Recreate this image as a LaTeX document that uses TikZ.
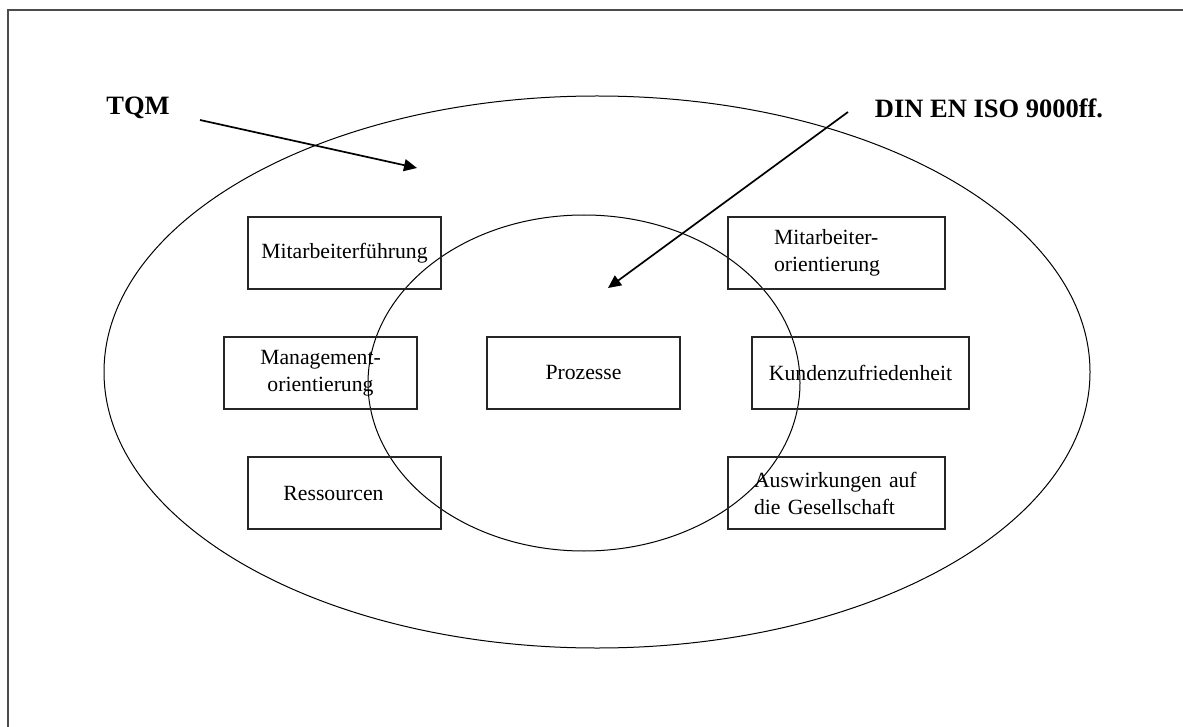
\documentclass[tikz,border=0pt]{standalone}
\usepackage{fontspec}
\setmainfont{Liberation Serif}
\usetikzlibrary{arrows.meta}
\tikzset{
  boxnode/.style={draw=black!85, line width=1.2pt, inner sep=0pt,
    font=\fontsize{21.7}{27}\selectfont},
  labelnode/.style={inner sep=0pt, font=\fontsize{26.5}{30}\selectfont\bfseries},
  ring/.style={draw=black, line width=1pt},
  pointer/.style={draw=black, line width=1.7pt, -{Triangle[length=13pt,width=12pt]}},
  frame/.style={draw=black!70, line width=1.6pt}
}
\begin{document}
\begin{tikzpicture}[x=1pt,y=-1pt]
\useasboundingbox (0,0) rectangle (1183,727);
\fill[white] (0,0) rectangle (1183,727);
% frame (only top and left edges are visible)
\draw[frame] (8,727) -- (8,10) -- (1183,10);
% ellipses
\draw[ring] (597,372) ellipse [x radius=493, y radius=276];
\draw[ring] (584,383) ellipse [x radius=216, y radius=168];
% boxes
\node[boxnode, minimum width=193, minimum height=72] (mf) at (344.5,253) {Mitarbeiterführung};
\node[boxnode, minimum width=193, minimum height=72, align=center] (mgo) at (320.5,373) {Management-\\orientierung};
\node[boxnode, minimum width=193, minimum height=72] (res) at (344.5,493) {\hspace*{-22pt}Ressourcen};
\node[boxnode, minimum width=193, minimum height=72] (pro) at (583.5,373) {Prozesse};
\node[boxnode, minimum width=217, minimum height=72, align=left, text width=125] (mao) at (836.5,253) {Mitarbeiter-\\orientierung};
\node[boxnode, minimum width=217, minimum height=72] (kz) at (860.5,373) {Kundenzufriedenheit};
\node[boxnode, minimum width=217, minimum height=72, align=left, text width=165] (aus) at (836.5,493) {Auswirkungen auf\\die Gesellschaft};
% labels
\node[labelnode] (tqm) at (138,108) {TQM};
\node[labelnode] (din) at (989,108) {DIN EN ISO 9000ff.};
% arrows
\coordinate (tqmS) at (200,120);
\coordinate (tqmE) at (417,168);
\coordinate (dinS) at (848,112);
\coordinate (dinE) at (608,288);
\draw[pointer] (tqmS) -- (tqmE);
\draw[pointer] (dinS) -- (dinE);
\end{tikzpicture}
\end{document}
